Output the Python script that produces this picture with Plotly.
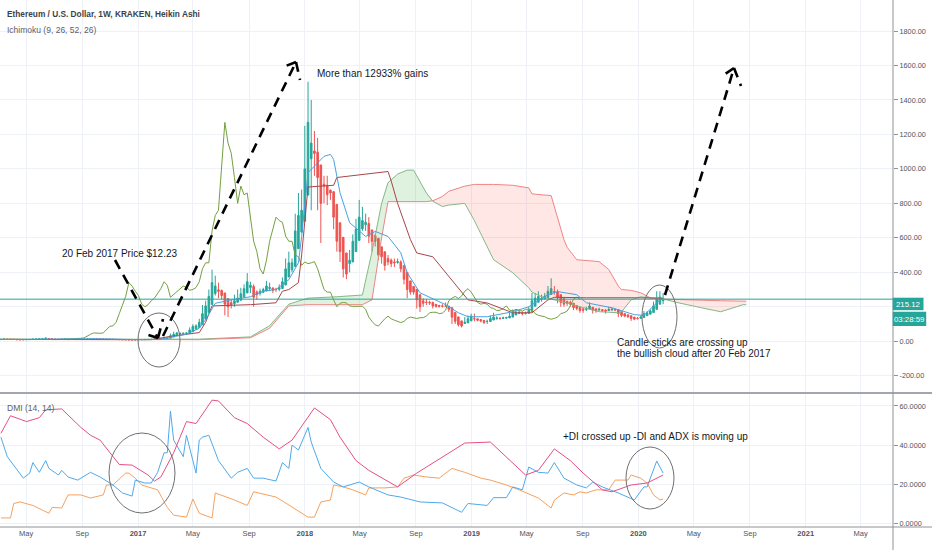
import numpy as np
import pandas as pd
import plotly.graph_objects as go

# ---------------- data ----------------
START = "2016-03-07"          # first weekly Heikin Ashi candle
N_WEEKS = 234                 # candles + 26 weeks of forward cloud
weeks = pd.date_range(START, periods=N_WEEKS, freq="7D")

ha_open = [
    9.5, 11.5, 12.0, 11.8, 11.6, 11.1, 10.0, 9.0, 8.8, 9.0,
    9.5, 10.8, 11.7, 12.8, 13.5, 15.5, 14.3, 13.0, 11.9, 11.5,
    12.0, 12.5, 11.2, 10.9, 11.0, 11.0, 11.5, 11.7, 12.0, 12.5,
    12.8, 12.7, 12.4, 12.2, 11.9, 11.5, 11.0, 10.5, 9.9, 9.3,
    8.8, 8.4, 7.9, 7.9, 8.8, 9.4, 9.9, 10.3, 10.7, 11.0,
    11.8, 12.3, 14.6, 16.8, 24.4, 32, 40, 42.5, 44, 46,
    55, 70, 80, 95, 128, 166, 213, 277, 298, 294,
    280, 247, 224, 218, 226, 238, 256, 280, 312, 318,
    286, 278, 284, 292, 306, 309, 302, 301, 306, 326,
    373, 414, 434, 537, 633, 696, 848, 1059, 1104, 1097,
    1023, 911, 905, 877, 868, 794, 687, 603, 512, 451,
    460, 520, 585, 652, 676, 683, 646, 613, 597, 548,
    519, 480, 470, 460, 457, 460, 440, 400, 350, 318,
    301, 270, 235, 227, 226, 224, 214, 208, 205, 204,
    204, 195, 167, 141, 118, 103, 106, 118, 131, 130,
    126, 121, 114, 114, 123, 131, 133, 132, 134, 135,
    140, 152, 160, 164, 162, 162, 171, 203, 226, 243,
    245, 253, 271, 288, 286, 270, 247, 231, 225, 220,
    207, 198, 188, 184, 187, 196, 188, 182, 183, 180,
    178, 181, 183, 183, 171, 160, 153, 148, 140, 134,
    133, 137, 148, 157, 166, 185, 215, 235,
]
ha_high = [
    12.5, 14.0, 12.8, 12.2, 11.8, 11.1, 10.0, 9.2, 9.6, 10.8,
    13.5, 13.2, 14.5, 15.0, 21.0, 16.0, 14.3, 13.0, 12.0, 13.5,
    14.0, 12.8, 11.5, 11.5, 11.8, 12.5, 12.3, 13.0, 13.5, 13.6,
    13.2, 12.8, 12.6, 12.3, 11.9, 11.5, 11.0, 10.5, 9.9, 9.3,
    8.9, 8.4, 8.3, 10.5, 11.5, 11.0, 11.0, 11.4, 11.7, 13.5,
    13.5, 20, 20.5, 44, 55, 53, 51, 50, 51, 80,
    98, 98, 130, 210, 235, 300, 415, 380, 340, 300,
    280, 250, 240, 270, 300, 310, 330, 395, 345, 330,
    295, 305, 310, 350, 340, 312, 310, 330, 370, 480,
    520, 480, 740, 860, 880, 1250, 1506, 1400, 1220, 1180,
    1023, 960, 960, 880, 868, 794, 687, 603, 512, 530,
    620, 710, 820, 780, 740, 720, 646, 625, 597, 548,
    519, 500, 480, 480, 480, 470, 440, 400, 350, 318,
    301, 270, 250, 245, 235, 230, 214, 210, 215, 225,
    204, 195, 167, 141, 118, 140, 150, 160, 160, 130,
    126, 121, 125, 150, 165, 145, 140, 142, 142, 165,
    185, 185, 178, 172, 172, 200, 280, 280, 290, 270,
    280, 320, 365, 320, 300, 270, 247, 235, 235, 220,
    207, 198, 188, 200, 225, 200, 188, 195, 183, 185,
    200, 195, 190, 183, 171, 160, 153, 148, 140, 140,
    148, 175, 175, 185, 230, 290, 290, 280,
]
ha_low = [
    9.0, 10.5, 10.0, 10.5, 9.8, 7.9, 7.2, 7.5, 8.4, 9.0,
    9.5, 10.8, 11.7, 12.8, 13.5, 11.0, 10.5, 9.5, 10.2, 11.2,
    12.0, 6.5, 9.5, 10.3, 10.6, 11.0, 11.2, 11.7, 12.0, 12.5,
    12.0, 11.5, 11.6, 11.0, 10.6, 10.0, 9.4, 8.8, 7.8, 7.9,
    7.5, 6.9, 7.4, 7.9, 8.8, 9.4, 9.9, 10.3, 10.7, 11.0,
    11.5, 12.3, 14.6, 16.8, 24.4, 32, 40, 41, 44, 46,
    55, 70, 80, 95, 128, 166, 213, 265, 250, 240,
    150, 140, 190, 200, 226, 238, 256, 280, 280, 200,
    240, 265, 280, 290, 290, 280, 285, 290, 306, 326,
    373, 400, 434, 537, 633, 696, 848, 760, 960, 760,
    570, 800, 790, 820, 650, 520, 460, 370, 360, 400,
    460, 520, 585, 640, 640, 570, 520, 550, 470, 450,
    410, 440, 430, 430, 450, 400, 330, 250, 270, 270,
    190, 170, 200, 210, 210, 190, 195, 195, 195, 200,
    170, 100, 100, 85, 80, 100, 106, 118, 115, 115,
    110, 100, 100, 114, 123, 125, 125, 130, 130, 135,
    140, 152, 158, 150, 155, 162, 171, 203, 226, 230,
    245, 253, 271, 270, 220, 200, 200, 205, 200, 180,
    180, 165, 165, 175, 187, 160, 165, 175, 170, 160,
    175, 178, 175, 140, 140, 140, 135, 118, 122, 125,
    133, 137, 148, 157, 166, 185, 215, 215,
]
ha_close = [
    11.5, 12.5, 11.0, 11.4, 10.6, 8.8, 8.0, 8.6, 9.2, 10.0,
    12.0, 12.6, 13.8, 14.2, 17.5, 13.0, 11.8, 10.8, 11.2, 12.6,
    13.0, 9.8, 10.6, 11.0, 11.1, 11.9, 11.9, 12.4, 12.9, 13.2,
    12.6, 12.1, 12.0, 11.6, 11.1, 10.6, 9.9, 9.3, 8.6, 8.4,
    7.9, 7.4, 7.9, 9.6, 9.9, 10.4, 10.6, 11.0, 11.3, 12.6,
    12.8, 17, 19, 32, 40, 48, 45, 46, 48, 65,
    86, 89, 110, 160, 205, 260, 340, 320, 290, 265,
    215, 200, 212, 235, 250, 275, 305, 345, 325, 255,
    270, 290, 300, 320, 312, 296, 300, 312, 345, 420,
    455, 455, 640, 730, 760, 1000, 1270, 1150, 1090, 950,
    800, 900, 850, 860, 720, 580, 520, 420, 390, 470,
    580, 650, 720, 700, 690, 610, 580, 580, 500, 490,
    440, 460, 450, 455, 462, 420, 360, 300, 285, 285,
    240, 200, 220, 225, 222, 205, 202, 202, 203, 203,
    185, 140, 115, 95, 88, 110, 130, 145, 130, 122,
    117, 108, 115, 132, 140, 135, 132, 136, 137, 145,
    165, 168, 168, 160, 163, 180, 235, 250, 260, 248,
    262, 290, 305, 285, 255, 225, 215, 220, 215, 195,
    190, 178, 180, 190, 205, 180, 176, 185, 178, 175,
    185, 186, 182, 160, 150, 146, 142, 132, 128, 132,
    140, 160, 165, 175, 205, 245, 255, 244,
]
LAG = 26  # lagging span shift (weeks)
last_price_text = "215.12"
countdown_text = "03:28:59"

# Ichimoku lines: (week index, value) knots
tenkan_idx = [0, 15, 30, 45, 50, 55, 58, 62, 64, 67, 72, 78, 82, 86, 90, 93, 94, 96, 101, 103, 104,
              106, 109, 114, 117, 121, 125, 127, 131, 139, 143, 146, 152, 160, 165, 171, 174, 180,
              183, 191, 198, 201, 206, 207]
tenkan_val = [10, 12, 14, 9, 11, 30, 40, 75, 125, 220, 240, 258, 290, 300, 357, 455, 608, 978, 1073,
              1084, 1055, 862, 688, 608, 637, 608, 513, 397, 281, 212, 165, 142, 142, 171, 200, 270,
              288, 270, 223, 194, 154, 150, 240, 245]
kijun_idx = [0, 47, 53, 59, 62, 64, 66, 78, 86, 88, 90, 93, 94, 96, 104, 105, 112, 121, 122, 124, 128,
             130, 135, 140, 146, 152, 160, 166, 171, 173, 183, 198, 207]
kijun_val = [10, 9, 28, 45, 50, 110, 205, 212, 223, 290, 300, 340, 500, 895, 905, 950, 965, 985, 930,
             800, 590, 512, 490, 375, 240, 222, 165, 165, 240, 255, 252, 252, 250]
cloud_idx = [0, 31, 62, 78, 84, 90, 96, 105, 113, 116, 119, 121, 124, 127, 129, 133, 135, 138, 140,
             145, 148, 154, 160, 165, 166, 169, 172, 176, 177, 180, 187, 190, 193, 194, 197, 200, 203,
             206, 212, 219, 225, 230, 232, 233]
lead_a = [10, 11, 12, 25, 90, 215, 250, 258, 268, 520, 800, 920, 970, 993, 993, 860, 812, 782, 790,
          800, 700, 473, 397, 310, 285, 258, 245, 228, 222, 205, 171, 168, 165, 170, 240, 258, 250,
          250, 222, 194, 171, 200, 212, 212]
lead_b = [10, 8, 9, 20, 75, 205, 212, 212, 212, 240, 600, 810, 810, 810, 810, 810, 815, 840, 870,
          900, 910, 910, 905, 890, 855, 848, 845, 590, 545, 473, 462, 416, 320, 300, 295, 281, 252,
          245, 240, 238, 235, 232, 232, 232]

# DMI (14, 14) knots
adx_idx = [0, 3, 8, 12, 14, 19, 25, 28, 31, 35, 37, 41, 46, 48, 50, 54, 58, 61, 66, 68, 73, 77, 82,
           87, 91, 98, 103, 106, 111, 115, 124, 130, 138, 145, 153, 158, 164, 168, 173, 178, 182,
           188, 191, 197, 202, 207]
adx_val = [46, 55, 52, 54, 58, 58.5, 49, 45, 42.5, 34, 30, 29.7, 24.6, 21.5, 23.6, 36, 52, 51, 63,
           62.6, 54, 51, 44, 38, 42.5, 59, 53, 44, 32, 27, 18.5, 25.6, 34, 41, 41.5, 34, 24.6, 27,
           38, 32, 25.6, 17, 16, 19.5, 20.5, 24.6]
pdi_idx = [0, 2, 7, 9, 10, 12, 14, 15, 18, 19, 21, 24, 28, 31, 35, 38, 41, 42, 45, 47, 49, 51, 52,
           53, 54, 57, 58, 61, 62, 63, 65, 66, 68, 72, 74, 77, 79, 82, 86, 88, 90, 91, 93, 96, 97,
           100, 104, 107, 112, 115, 121, 125, 131, 138, 144, 146, 152, 154, 158, 160, 163, 165,
           168, 171, 173, 176, 180, 183, 185, 188, 193, 198, 201, 202, 205, 207]
pdi_val = [44, 34, 23, 25.6, 31, 26, 32, 28, 24.6, 27, 23.6, 22, 26, 23.6, 19.5, 15.4, 13.8, 22,
           20.5, 20.5, 26, 36, 36, 57.4, 42.5, 34, 45, 25.6, 42.5, 44, 45, 41, 32, 23, 26, 28, 23,
           23, 21.5, 31, 28, 40, 37.4, 49, 41.5, 28, 21, 18.5, 21, 18.5, 14.4, 13.3, 10.8, 10.3,
           5.5, 10, 9, 13, 13, 18.5, 17, 28.7, 26, 25.6, 31, 23, 19.5, 18, 21, 18.5, 15.4, 11.8,
           18.5, 18.5, 31.8, 25.6]
mdi_idx = [0, 3, 4, 6, 10, 15, 16, 19, 21, 25, 28, 32, 33, 35, 39, 40, 42, 44, 49, 52, 54, 58, 60,
           62, 66, 67, 73, 77, 79, 83, 86, 91, 96, 98, 100, 103, 104, 107, 110, 114, 115, 120, 124,
           126, 129, 133, 137, 141, 145, 150, 153, 158, 162, 168, 172, 173, 176, 179, 181, 183,
           186, 190, 192, 196, 197, 200, 202, 204, 206, 207]
mdi_val = [2.6, 2.6, 10, 10.8, 9, 5, 8, 7.7, 14.4, 14.4, 12.8, 14.4, 19.5, 19.5, 25.6, 25.6, 23,
           19.5, 17, 8, 4, 3, 12.3, 5, 2.6, 15.4, 11.8, 9, 16, 14.4, 13.3, 8.2, 3, 3, 10.8, 11.8,
           19.5, 18.5, 17, 14.4, 18, 18, 18.5, 23, 24.6, 23.6, 23, 28, 26, 23, 22, 19.5, 17, 12.8,
           7.7, 11.8, 15.4, 14.4, 16, 15.4, 17, 17, 22, 22, 24.6, 23, 20.5, 14.4, 11.8, 12.3]

x_tick_dates = ["2016-05-01", "2016-09-01", "2017-01-01", "2017-05-01", "2017-09-01", "2018-01-01",
                "2018-05-01", "2018-09-01", "2019-01-01", "2019-05-01", "2019-09-01", "2020-01-01",
                "2020-05-01", "2020-09-01", "2021-01-01", "2021-05-01"]
x_tick_text = ["May", "Sep", "<b>2017</b>", "May", "Sep", "<b>2018</b>", "May", "Sep", "<b>2019</b>",
               "May", "Sep", "<b>2020</b>", "May", "Sep", "<b>2021</b>", "May"]
price_ticks = [-200, 0, 200, 400, 600, 800, 1000, 1200, 1400, 1600, 1800]
dmi_ticks = [0, 20, 40, 60]

# ---------------- helpers ----------------
W, H = 932, 550
PW, PH = 893, 527          # plot area in pixels (margins r=39, b=23)


def X(px):
    return px / PW


def Y(py):
    return 1 - py / PH


def wk(idx):
    return pd.Timestamp(START) + pd.to_timedelta(np.asarray(idx, dtype=float) * 7, unit="D")


def cloud_parts(idx, a, b):
    xs, aa, bb = [idx[0]], [a[0]], [b[0]]
    for k in range(1, len(idx)):
        d0, d1 = a[k - 1] - b[k - 1], a[k] - b[k]
        if d0 * d1 < 0:
            t = d0 / (d0 - d1)
            xs.append(idx[k - 1] + t * (idx[k] - idx[k - 1]))
            v = a[k - 1] + t * (a[k] - a[k - 1])
            aa.append(v)
            bb.append(v)
        xs.append(idx[k])
        aa.append(a[k])
        bb.append(b[k])
    aa, bb = np.array(aa, float), np.array(bb, float)
    return np.array(xs, float), aa, bb, np.maximum(aa, bb)


FONT = "Liberation Sans, Arial, sans-serif"
GRID = "#eef1f6"
AXC = "#8f929b"
UP, DOWN = "#26a69a", "#ef5350"

fig = go.Figure()

# cloud
cx, ca, cb, ctop = cloud_parts(cloud_idx, lead_a, lead_b)
cxd = wk(cx)
nol = dict(width=0)
fig.add_trace(go.Scatter(x=cxd, y=cb, mode="lines", line=nol, hoverinfo="skip"))
fig.add_trace(go.Scatter(x=cxd, y=ctop, mode="lines", line=nol, fill="tonexty",
                         fillcolor="rgba(76,175,80,0.18)", hoverinfo="skip"))
fig.add_trace(go.Scatter(x=cxd, y=ca, mode="lines", line=nol, hoverinfo="skip"))
fig.add_trace(go.Scatter(x=cxd, y=ctop, mode="lines", line=nol, fill="tonexty",
                         fillcolor="rgba(244,67,54,0.13)", hoverinfo="skip"))

# candles
n = len(ha_close)
fig.add_trace(go.Candlestick(
    x=weeks[:n], open=ha_open, high=ha_high, low=ha_low, close=ha_close,
    increasing=dict(line=dict(color=UP, width=1), fillcolor=UP),
    decreasing=dict(line=dict(color=DOWN, width=1), fillcolor=DOWN),
    whiskerwidth=0, hoverinfo="skip", xaxis="x", yaxis="y"))

# ichimoku lines
fig.add_trace(go.Scatter(x=wk(cloud_idx), y=lead_a, mode="lines",
                         line=dict(color="#86b886", width=1), hoverinfo="skip"))
fig.add_trace(go.Scatter(x=wk(cloud_idx), y=lead_b, mode="lines",
                         line=dict(color="#ee8585", width=1), hoverinfo="skip"))
fig.add_trace(go.Scatter(x=weeks[:n - LAG], y=ha_close[LAG:], mode="lines",
                         line=dict(color="#74a040", width=1), hoverinfo="skip"))
fig.add_trace(go.Scatter(x=wk(kijun_idx), y=kijun_val, mode="lines",
                         line=dict(color="#a8464b", width=1), hoverinfo="skip"))
fig.add_trace(go.Scatter(x=wk(tenkan_idx), y=tenkan_val, mode="lines",
                         line=dict(color="#4aa0e0", width=1), hoverinfo="skip"))

# DMI
fig.add_trace(go.Scatter(x=wk(mdi_idx), y=mdi_val, mode="lines", yaxis="y2",
                         line=dict(color="#f6a15e", width=1), hoverinfo="skip"))
fig.add_trace(go.Scatter(x=wk(pdi_idx), y=pdi_val, mode="lines", yaxis="y2",
                         line=dict(color="#4faaea", width=1), hoverinfo="skip"))
fig.add_trace(go.Scatter(x=wk(adx_idx), y=adx_val, mode="lines", yaxis="y2",
                         line=dict(color="#e64f86", width=1), hoverinfo="skip"))

shapes = []
# price line
shapes.append(dict(type="line", xref="paper", yref="y", x0=0, x1=1, y0=ha_close[-1], y1=ha_close[-1],
                   line=dict(color=UP, width=1)))
# frame lines
shapes.append(dict(type="line", xref="paper", yref="paper", x0=0, x1=W / PW, y0=Y(393), y1=Y(393),
                   line=dict(color="#a3a6af", width=2)))
shapes.append(dict(type="line", xref="paper", yref="paper", x0=0, x1=W / PW, y0=Y(527), y1=Y(527),
                   line=dict(color=AXC, width=1)))
shapes.append(dict(type="line", xref="paper", yref="paper", x0=1, x1=1, y0=Y(0), y1=Y(H),
                   line=dict(color=AXC, width=1)))
# price / countdown label boxes
shapes.append(dict(type="rect", xref="paper", yref="paper", x0=X(892.7), x1=X(923.5), y0=Y(297.7),
                   y1=Y(310.2), fillcolor=UP, line=dict(width=0)))
shapes.append(dict(type="rect", xref="paper", yref="paper", x0=X(892.7), x1=X(926.2), y0=Y(311.7),
                   y1=Y(326), fillcolor=UP, line=dict(width=0)))

# circles
for (x0, x1, y0, y1) in [(138, 180, 313, 367), (642, 677, 285, 348), (109, 175, 433, 513),
                         (626, 674, 447, 509)]:
    shapes.append(dict(type="circle", xref="paper", yref="paper", x0=X(x0), x1=X(x1), y0=Y(y0),
                       y1=Y(y1), line=dict(color="#707070", width=1)))

# dashed arrows (user drawings)
DASH = dict(color="#000000", width=2.6, dash="10px,7px")
for (x0, y0, x1, y1) in [
    (163, 336, 296, 62), (296, 62, 283, 67), (296, 62, 300, 80),
    (115, 260, 158, 338), (158, 338, 145, 334), (158, 338, 163, 319),
    (665, 295, 734, 68), (734, 68, 722, 76), (734, 68, 741, 86),
]:
    shapes.append(dict(type="line", xref="paper", yref="paper", x0=X(x0), y0=Y(y0), x1=X(x1),
                       y1=Y(y1), line=DASH))

ann = []


def txt(s, px, py, size=10, color="#131722", anchor="left", bold=False):
    ann.append(dict(text=("<b>%s</b>" % s) if bold else s, xref="paper", yref="paper", x=X(px),
                    y=Y(py), xanchor=anchor, yanchor="middle", showarrow=False,
                    font=dict(family=FONT, size=size, color=color)))


txt("Ethereum / U.S. Dollar, 1W, KRAKEN, Heikin Ashi", 5, 14, size=8.3, color="#3c3f48", bold=True)
txt("Ichimoku (9, 26, 52, 26)", 5, 30, size=8.5, color="#5d606b")
txt("DMI (14, 14)", 5, 408, size=8.5, color="#5d606b")
txt("More than 12933% gains", 315, 73)
txt("20 Feb 2017 Price $12.23", 60, 253)
txt("Candle sticks are crossing up", 615, 342)
txt("the bullish cloud after 20 Feb 2017", 615, 353)
txt("+DI crossed up -DI and ADX is moving up", 561, 436)
txt(last_price_text, 908.1, 304, size=7.8, color="#ffffff", anchor="center")
txt(countdown_text, 909.4, 319, size=7.8, color="#ffffff", anchor="center")

fig.update_layout(
    width=W, height=H, margin=dict(l=0, r=W - PW, t=0, b=H - PH),
    paper_bgcolor="white", plot_bgcolor="white", showlegend=False,
    font=dict(family=FONT, size=7.3, color="#50535e"),
    xaxis=dict(type="date", range=["2016-03-05", "2021-07-11"], domain=[0, 1], anchor="y2",
               tickvals=x_tick_dates, ticktext=x_tick_text, showgrid=True, gridcolor=GRID,
               gridwidth=1, showline=False, zeroline=False, ticks="", rangeslider=dict(visible=False),
               fixedrange=True, tickfont=dict(size=7.5)),
    yaxis=dict(domain=[1 - 393 / PH, 1], range=[-300.6, 1980.3], side="right", anchor="x",
               tickvals=price_ticks, ticktext=["%.2f" % v if v != 200 else "" for v in price_ticks],
               showgrid=True, gridcolor=GRID, showline=False, zeroline=False, ticks="outside",
               ticklen=4, tickcolor=AXC),
    yaxis2=dict(domain=[0, 1 - 394 / PH], range=[-2.05, 66.15], side="right", anchor="x",
                tickvals=dmi_ticks, ticktext=["%.4f" % v for v in dmi_ticks], showgrid=True,
                gridcolor=GRID, showline=False, zeroline=False, ticks="outside", ticklen=4,
                tickcolor=AXC),
    shapes=shapes, annotations=ann,
)

fig.write_html("out.html", config={"displayModeBar": False},
               post_script="document.body.style.margin='0';document.body.style.overflow='hidden';")
